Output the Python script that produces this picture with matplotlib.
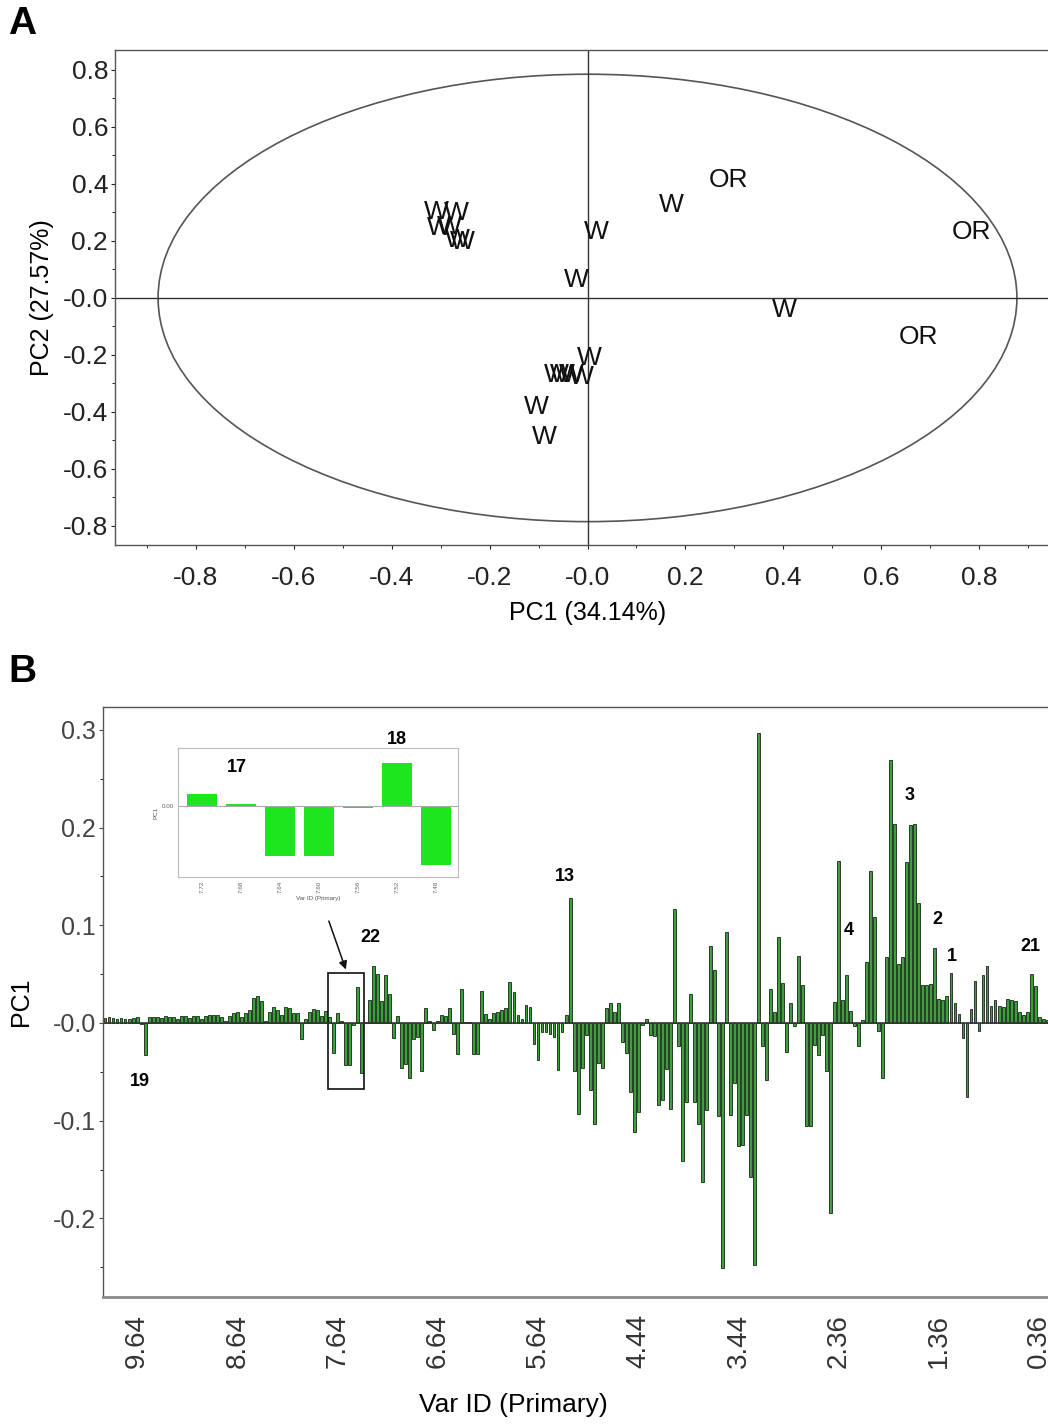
import numpy as np
import matplotlib
matplotlib.use("Agg")
import matplotlib.pyplot as plt
from matplotlib.patches import Ellipse, Rectangle

plt.rcParams['font.family'] = ['Liberation Sans', 'DejaVu Sans']

# ---- panel A: PCA scores ----
score_labels = ['W', 'W', 'W', 'W', 'W', 'W', 'W', 'W', 'W', 'OR', 'OR', 'W', 'OR',
                'W', 'W', 'W', 'W', 'W', 'W', 'W']
pc1_scores = [-0.308, -0.267, -0.302, -0.282, -0.265, -0.255, 0.018, -0.022, 0.171, 0.288, 0.784,
              0.402, 0.676, 0.004, -0.051, -0.033, -0.012, -0.063, -0.104, -0.088]
pc2_scores = [0.302, 0.298, 0.246, 0.249, 0.204, 0.196, 0.232, 0.063, 0.326, 0.414, 0.232,
              -0.042, -0.137, -0.211, -0.270, -0.270, -0.277, -0.270, -0.382, -0.488]
a_ticks = [-0.8, -0.6, -0.4, -0.2, 0.0, 0.2, 0.4, 0.6, 0.8]
a_ticklabels = ['-0.8', '-0.6', '-0.4', '-0.2', '-0.0', '0.2', '0.4', '0.6', '0.8']

# ---- panel B: PC1 loadings per bin ----
loadings = [
    0.005, 0.006, 0.005, 0.004, 0.005, 0.004, 0.004, 0.005, 0.006, -0.001,
    -0.033, 0.006, 0.006, 0.006, 0.005, 0.007, 0.006, 0.006, 0.004, 0.007,
    0.007, 0.005, 0.007, 0.007, 0.004, 0.007, 0.008, 0.008, 0.008, 0.006,
    0.002, 0.007, 0.010, 0.011, 0.006, 0.010, 0.013, 0.026, 0.028, 0.022,
    0.002, 0.011, 0.016, 0.013, 0.008, 0.016, 0.015, 0.010, 0.010, -0.016,
    0.004, 0.011, 0.014, 0.013, 0.007, 0.012, 0.006, -0.031, 0.010, 0.002,
    -0.043, -0.043, -0.002, 0.037, -0.051, 0.001, 0.024, 0.058, 0.050, 0.022,
    0.049, 0.030, -0.015, 0.007, -0.046, -0.042, -0.056, -0.016, -0.014, -0.049,
    0.015, 0.002, -0.0075, 0.002, 0.008, 0.007, 0.015, -0.011, -0.032, 0.035,
    0.001, 0.001, -0.032, -0.032, 0.033, 0.0095, 0.0044, 0.010, 0.011, 0.013,
    0.015, 0.042, 0.032, 0.0085, 0.004, 0.018, 0.016, -0.022, -0.038, -0.009,
    -0.009, -0.011, -0.014, -0.048, -0.009, 0.008, 0.128, -0.049, -0.093, -0.046,
    -0.012, -0.069, -0.103, -0.041, -0.046, 0.015, 0.020, 0.011, 0.020, -0.019,
    -0.031, -0.071, -0.112, -0.091, -0.002, 0.004, -0.012, -0.013, -0.084, -0.079,
    -0.047, -0.088, 0.117, -0.024, -0.141, -0.081, 0.030, -0.081, -0.103, -0.163,
    -0.089, 0.079, 0.054, -0.095, -0.251, 0.093, -0.094, -0.061, -0.126, -0.125,
    -0.094, -0.158, -0.248, 0.297, -0.024, -0.058, 0.035, 0.011, 0.088, 0.041,
    -0.030, 0.020, -0.003, 0.069, 0.039, -0.105, -0.105, -0.023, -0.033, -0.012,
    -0.049, -0.195, 0.021, 0.166, 0.023, 0.049, 0.012, -0.003, -0.024, 0.003,
    0.062, 0.156, 0.108, -0.008, -0.056, 0.068, 0.269, 0.204, 0.060, 0.067,
    0.165, 0.203, 0.204, 0.123, 0.039, 0.039, 0.040, 0.077, 0.025, 0.023,
    0.028, 0.051, 0.020, 0.009, -0.015, -0.076, 0.014, 0.043, -0.008, 0.049,
    0.058, 0.017, 0.024, 0.017, 0.016, 0.025, 0.023, 0.022, 0.011, 0.008,
    0.011, 0.050, 0.038, 0.006, 0.004, 0.003,
]
b_ticklabels = ['9.64', '8.64', '7.64', '6.64', '5.64', '4.44', '3.44', '2.36', '1.36', '0.36']
b_tick_idx = [8, 33, 58, 83, 108, 133, 158, 183, 208, 233]
b_yticks = [-0.2, -0.1, 0.0, 0.1, 0.2, 0.3]
b_yticklabels = ['-0.2', '-0.1', '-0.0', '0.1', '0.2', '0.3']

peak_names = ['19', '22', '13', '4', '3', '2', '1', '21']
peak_x = [8.7, 66.1, 114.7, 185.5, 200.7, 207.5, 211.2, 230.9]
peak_y = [-0.060, 0.087, 0.150, 0.095, 0.233, 0.106, 0.068, 0.078]

# bins shown in the inset (7.72 .. 7.48)
inset_first, inset_last = 58, 65
inset_ticklabels = ['7.72', '7.68', '7.64', '7.60', '7.56', '7.52', '7.48']

fig = plt.figure(figsize=(10.48, 14.24), dpi=100)

# ================= A =================
axA = fig.add_axes([115/1048, 1 - 545/1424, 945/1048, 495/1424])
axA.set_xlim(-0.965, 0.965)
axA.set_ylim(-0.867, 0.87)
axA.add_patch(Ellipse((0, 0), 2*0.877, 2*0.785, fill=False, ec='#555555', lw=1.2))
axA.axhline(0, color='#333333', lw=1)
axA.axvline(0, color='#333333', lw=1)
for lab, x, y in zip(score_labels, pc1_scores, pc2_scores):
    axA.text(x, y, lab, ha='center', va='center', fontsize=19, color='#111111')

axA.set_xticks(a_ticks)
axA.set_xticklabels(a_ticklabels)
axA.set_yticks(a_ticks)
axA.set_yticklabels(a_ticklabels)
axA.set_xticks(np.arange(-0.9, 0.95, 0.1), minor=True)
axA.set_yticks(np.arange(-0.8, 0.85, 0.1), minor=True)
axA.tick_params(labelsize=19, colors='#222222', length=3, width=0.8, pad=2)
axA.tick_params(which='minor', length=2.5, width=0.6)
axA.tick_params(axis='x', pad=12)
axA.set_xlabel('PC1 (34.14%)', fontsize=18, labelpad=8)
axA.set_ylabel('PC2 (27.57%)', fontsize=18, labelpad=6)
for s in axA.spines.values():
    s.set_color('#555555')
    s.set_linewidth(1)

fig.text(8/1048, 1 - 24/1424, 'A', fontsize=28, fontweight='bold', va='center')

# ================= B =================
axB = fig.add_axes([103/1048, 1 - 1297/1424, 957/1048, 590/1424])
idx = np.arange(len(loadings))
axB.bar(idx, loadings, width=0.72, color='#35a335', edgecolor='#2b3b2b', linewidth=0.7)
axB.axhline(0, color='#333333', lw=1.2)
axB.set_xlim(-0.5, 238.2)
axB.set_ylim(-0.2805, 0.3234)
axB.set_xticks(b_tick_idx)
axB.set_xticklabels(b_ticklabels, rotation=90)
axB.set_yticks(b_yticks)
axB.set_yticklabels(b_yticklabels)
axB.set_yticks(np.arange(-0.25, 0.32, 0.05), minor=True)
axB.tick_params(axis='y', labelsize=18, colors='#444444', length=3, width=0.8, pad=2)
axB.tick_params(which='minor', length=2.5, width=0.6)
axB.tick_params(axis='x', labelsize=20, colors='#333333', pad=12, length=0)
axB.set_xlabel('Var ID (Primary)', fontsize=19, labelpad=14)
axB.xaxis.set_label_coords((513 - 103) / 957, -(1405 - 1297) / 590)
axB.xaxis.label.set_va('center')
axB.set_ylabel('PC1', fontsize=18, labelpad=14)
for s in axB.spines.values():
    s.set_color('#555555')
    s.set_linewidth(1)
axB.spines['bottom'].set_linewidth(2)
axB.spines['bottom'].set_color('#888888')

for name, x, y in zip(peak_names, peak_x, peak_y):
    axB.text(x, y, name, ha='center', va='center', fontsize=13, fontweight='bold')

axB.add_patch(Rectangle((55.6, -0.068), 9.0, 0.119, fill=False, ec='#111111', lw=1.2))
axB.annotate('', xy=(60.3, 0.052), xytext=(55.6, 0.107),
             arrowprops=dict(arrowstyle='-|>', color='#111111', lw=1.1, mutation_scale=12))

fig.text(8/1048, 1 - 672/1424, 'B', fontsize=28, fontweight='bold', va='center')

# inset zoom on the boxed region
axI = fig.add_axes([178/1048, 1 - 877/1424, 280/1048, 129/1424])
ins_vals = loadings[inset_first:inset_last]
axI.bar(np.arange(len(ins_vals)), ins_vals, width=0.76, color='#1ee61e', edgecolor='none')
axI.axhline(0, color='#aaaaaa', lw=0.8)
axI.set_xlim(-0.62, 6.56)
axI.set_ylim(-0.0612, 0.050)
axI.set_xticks(np.arange(len(ins_vals)))
axI.set_xticklabels(inset_ticklabels, rotation=90)
axI.set_yticks([0.0])
axI.set_yticklabels(['0.00'])
axI.tick_params(labelsize=4.5, colors='#666666', length=0, pad=3)
axI.set_xlabel('Var ID (Primary)', fontsize=4.5, color='#555555', labelpad=2)
axI.set_ylabel('PC1', fontsize=4.5, color='#555555', labelpad=2)
for s in axI.spines.values():
    s.set_color('#bbbbbb')
    s.set_linewidth(0.8)

fig.text(237/1048, 1 - 768/1424, '17', fontsize=13, fontweight='bold', ha='center', va='center')
fig.text(397/1048, 1 - 740/1424, '18', fontsize=13, fontweight='bold', ha='center', va='center')

fig.savefig('out.png', dpi=100)
